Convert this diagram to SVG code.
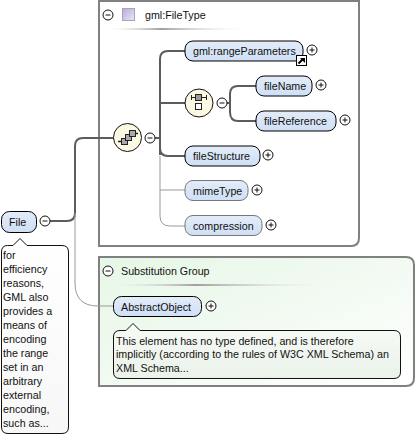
<svg xmlns="http://www.w3.org/2000/svg" width="416" height="437" viewBox="0 0 416 437">
<defs>
<linearGradient id="nf" x1="0" y1="0" x2="0" y2="1"><stop offset="0" stop-color="#e3ecf9"/><stop offset="1" stop-color="#cfdff5"/></linearGradient>
<linearGradient id="sg" x1="0" y1="0" x2="1" y2="1"><stop offset="0" stop-color="#e6f7e6"/><stop offset="0.5" stop-color="#f2faf2"/><stop offset="1" stop-color="#ffffff"/></linearGradient>
<linearGradient id="ann" x1="0" y1="0" x2="0" y2="1"><stop offset="0" stop-color="#ffffff"/><stop offset="1" stop-color="#f6f7f6"/></linearGradient>
<linearGradient id="ann2" x1="0" y1="0" x2="0" y2="1"><stop offset="0" stop-color="#f7fbf5"/><stop offset="1" stop-color="#eaf2ea"/></linearGradient>
<linearGradient id="rule" x1="0" y1="0" x2="1" y2="0"><stop offset="0" stop-color="#ffffff" stop-opacity="0"/><stop offset="0.4" stop-color="#a0a0a0"/><stop offset="1" stop-color="#ffffff" stop-opacity="0"/></linearGradient>
<linearGradient id="sw" x1="0" y1="0" x2="1" y2="1"><stop offset="0" stop-color="#b9a8d8"/><stop offset="1" stop-color="#ece8f6"/></linearGradient>
<g id="plus"><circle cx="0" cy="0" r="5" fill="#fff" stroke="#111" stroke-width="1"/><path d="M-2.500 0H2.500M0 -2.500V2.500" stroke="#111" stroke-width="1"/></g>
<g id="minus"><circle cx="0" cy="0" r="5" fill="#fff" stroke="#111" stroke-width="1"/><path d="M-2.500 0H2.500" stroke="#111" stroke-width="1"/></g>
</defs>
<style>
text{font-family:"Liberation Sans",Arial,sans-serif;font-size:10.700px;fill:#111}
.node{fill:url(#nf);stroke:#000;stroke-width:1}
.opt{fill:url(#nf);stroke:#777;stroke-width:1}
.box{stroke:#808080;stroke-width:2}
.thick{fill:none;stroke:#5c5c5c;stroke-width:2}
.thin{fill:none;stroke:#999;stroke-width:1}
.comp{fill:#fbf9e3;stroke:#111;stroke-width:1}
.ann{stroke:#111;stroke-width:1}
</style>

<g id="type-box">
<path class="box" d="M99 1H359V238Q359 246 351 246H99Z" fill="#fff"/>
<use href="#minus" x="108" y="15"/>
<rect x="122.500" y="8.500" width="12" height="12" fill="url(#sw)" stroke="#a9a0c4" stroke-width="1"/>
<text x="145" y="19">gml:FileType</text>
<rect x="102" y="28" width="148" height="2" fill="url(#rule)"/>
</g>

<g id="subst-box">
<path class="box" d="M99 257H406Q414 257 414 265V378Q414 386 406 386H99Z" fill="url(#sg)"/>
<use href="#minus" x="108" y="271"/>
<text x="121" y="275">Substitution Group</text>
<rect x="100" y="284" width="240" height="2" fill="url(#rule)"/>
</g>

<g id="connectors">
<path class="thick" d="M50 221H67Q75 221 75 213V146Q75 138 83 138H114"/>
<path class="thin" d="M75 213V283Q75 306 98 306H113"/>
<path class="thick" d="M155 138H160M160 155V59Q160 51 168 51H185"/>
<path class="thick" d="M160 103H185"/>
<path class="thick" d="M160 138V148Q160 156 168 156H185"/>
<path class="thin" d="M160 156V190H185"/>
<path class="thin" d="M160 190V216Q160 226 170 226H185"/>
<path class="thick" d="M227 103H230M230 103V94Q230 86 238 86H256M230 103V112Q230 121 238 121H256"/>
</g>

<g id="file">
<rect class="node" x="1.500" y="211.500" width="35" height="21" rx="8"/>
<text x="9" y="226">File</text>
<use href="#minus" x="45" y="221"/>
<path class="ann" fill="url(#ann)" d="M7.500 245.500H13L20 238.500L27 245.500H62Q68.500 245.500 68.500 252V427Q68.500 433.500 62 433.500H8Q1.500 433.500 1.500 427V252Q1.500 245.500 7.500 245.500Z"/>
<text x="3" y="259">for</text>
<text x="3" y="273">efficiency</text>
<text x="3" y="287">reasons,</text>
<text x="3" y="301">GML also</text>
<text x="3" y="315">provides a</text>
<text x="3" y="329">means of</text>
<text x="3" y="343">encoding</text>
<text x="3" y="357">the range</text>
<text x="3" y="371">set in an</text>
<text x="3" y="385">arbitrary</text>
<text x="3" y="399">external</text>
<text x="3" y="413">encoding,</text>
<text x="3" y="427">such as...</text>
</g>

<g id="sequence">
<circle class="comp" cx="127.500" cy="137.500" r="14"/>
<g fill="#aaa" stroke="#222" stroke-width="1">
<rect x="121.500" y="138.500" width="6" height="6"/>
<rect x="125.500" y="134.500" width="6" height="6"/>
<rect x="129.500" y="130.500" width="6" height="6"/>
</g>
<path d="M118 141.500H122M135 133.500H138" stroke="#222" stroke-width="1.500"/>
<use href="#minus" x="150" y="138"/>
</g>

<g id="choice">
<circle class="comp" cx="199" cy="103" r="14"/>
<path d="M191 97.500H207M191.500 95V100M206.500 95V100" stroke="#222" stroke-width="1"/>
<rect x="195.500" y="94.500" width="6" height="6" fill="#999" stroke="#222"/>
<rect x="195.500" y="103.500" width="6" height="6" fill="#fff" stroke="#222"/>
<use href="#minus" x="222" y="103"/>
</g>

<g id="gml-rangeParameters">
<rect class="node" x="185" y="41" width="118" height="20" rx="8"/>
<text x="193" y="55">gml:rangeParameters</text>
<rect x="296.500" y="55.500" width="10" height="10" fill="#fff" stroke="#000"/>
<path d="M298.500 63.500L303 59" stroke="#000" stroke-width="2"/>
<path d="M300 58H305V63Z" fill="#000"/>
<use href="#plus" x="312" y="50"/>
</g>
<g id="fileName">
<rect class="node" x="256" y="76" width="56" height="20" rx="8"/>
<text x="264" y="90">fileName</text>
<use href="#plus" x="321" y="85"/>
</g>
<g id="fileReference">
<rect class="node" x="256" y="111" width="80" height="20" rx="8"/>
<text x="264" y="125">fileReference</text>
<use href="#plus" x="345" y="120"/>
</g>
<g id="fileStructure">
<rect class="node" x="185" y="146" width="75" height="20" rx="8"/>
<text x="193" y="160">fileStructure</text>
<use href="#plus" x="268" y="155"/>
</g>
<g id="mimeType">
<rect class="opt" x="185" y="180.500" width="63" height="20" rx="8"/>
<text x="193" y="195">mimeType</text>
<use href="#plus" x="257" y="190"/>
</g>
<g id="compression">
<rect class="opt" x="185" y="215.500" width="77" height="20" rx="8"/>
<text x="193" y="230">compression</text>
<use href="#plus" x="271" y="225"/>
</g>
<g id="AbstractObject">
<rect class="node" x="113.500" y="296.500" width="88" height="20" rx="8"/>
<text x="121" y="311">AbstractObject</text>
<use href="#plus" x="211" y="306"/>
<path class="ann" fill="url(#ann2)" d="M120 330.500H126L133 323.500L140 330.500H394Q400.500 330.500 400.500 337V372Q400.500 378.500 394 378.500H120Q113.500 378.500 113.500 372V337Q113.500 330.500 120 330.500Z"/>
<text x="116" y="345">This element has no type defined, and is therefore</text>
<text x="116" y="358">implicitly (according to the rules of W3C XML Schema) an</text>
<text x="116" y="372">XML Schema...</text>
</g>
</svg>
